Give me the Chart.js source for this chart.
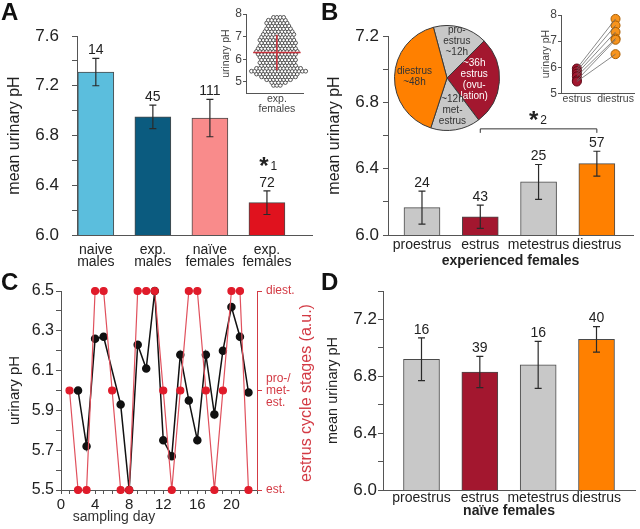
<!DOCTYPE html>
<html lang="en">
<head>
<meta charset="UTF-8" />
<title>Urinary pH over the estrus cycle</title>
<script src="https://cdn.jsdelivr.net/npm/chart.js"></script>
<style>
  html, body { margin: 0; padding: 0; background: #fff; }
  #fig { position: relative; width: 640px; height: 529px; overflow: hidden; }
  #fig canvas { position: absolute; }
  .letter { position: absolute; font: bold 24px "Liberation Sans", Arial, sans-serif; color: #111; line-height: 1; }
</style>
</head>
<body>
<div id="fig">
  <canvas id="chartA" width="320" height="270" style="left:0;top:0"></canvas>
  <canvas id="insetA" width="95" height="110" style="left:220px;top:5px"></canvas>
  <canvas id="chartB" width="320" height="270" style="left:320px;top:0"></canvas>
  <canvas id="pieB" width="106" height="106" style="left:394px;top:25px"></canvas>
  <canvas id="insetB" width="100" height="105" style="left:540px;top:5px"></canvas>
  <canvas id="chartC" width="320" height="259" style="left:0;top:270px"></canvas>
  <canvas id="chartD" width="320" height="259" style="left:320px;top:270px"></canvas>
  <div class="letter" style="left:1px;top:0">A</div>
  <div class="letter" style="left:321px;top:0">B</div>
  <div class="letter" style="left:1px;top:270px">C</div>
  <div class="letter" style="left:321px;top:270px">D</div>
</div>
<script>
// ---- panel A: all groups ----
const groupsA = [["naive", "males"], ["exp.", "males"], ["naïve", "females"], ["exp.", "females"]];
const meanA = [7.31, 6.95, 6.94, 6.26];
const semA = [0.11, 0.095, 0.15, 0.095];
const nA = [14, 45, 111, 72];
const colorsA = ["#5bbedd", "#0b5b7f", "#f98b8b", "#e0121e"];

// inset A: swarm of exp. females, read as rows (pH level, number of dots)
const swarmPH = [4.85, 4.975, 5.1, 5.225, 5.35, 5.475, 5.6, 5.725, 5.85, 5.975, 6.1, 6.225, 6.35,
                 6.475, 6.6, 6.725, 6.85, 6.975, 7.1, 7.225, 7.35, 7.475, 7.6, 7.725, 7.85];
const swarmCount = [3, 5, 8, 11, 13, 17, 14, 11, 11, 11, 11, 12, 13, 12, 11, 11, 11, 10, 10, 9, 8, 7, 7, 6, 4];
const swarmMean = 6.3;
const swarmSd = 0.78;

// ---- panel B: experienced females by stage ----
const stages = ["proestrus", "estrus", "metestrus", "diestrus"];
const meanB = [6.165, 6.11, 6.32, 6.43];
const semB = [0.1, 0.07, 0.105, 0.075];
const nB = [24, 43, 25, 57];
const stageColors = ["#c8c8c8", "#a3172f", "#c8c8c8", "#ff8000"];

// pie of the cycle (slice sizes as drawn, degrees)
const pieLabels = [["pro-", "estrus", "~12h"], ["~36h", "estrus", "(ovu-", "lation)"], ["~12h", "met-", "estrus"], ["diestrus", "~48h"]];
const pieDegrees = [60, 98, 55, 147];

// inset B: paired estrus / diestrus values
const pairEstrus = [5.95, 5.85, 5.75, 5.65, 5.5, 5.45];
const pairDiestrus = [7.85, 7.6, 7.35, 7.1, 7.05, 6.5];

// ---- panel C: single female over days ----
const days = [1, 2, 3, 4, 5, 6, 7, 8, 9, 10, 11, 12, 13, 14, 15, 16, 17, 18, 19, 20, 21, 22];
const phC = [null, 6.0, 5.72, 6.26, 6.27, null, 5.93, 5.5, 6.23, 6.11, 6.5, 5.75, 5.67, 6.18, 5.95, 5.75, 6.18, 5.88, 6.2, 6.42, 6.27, 5.99];
const stageC = [1, 0, 0, 2, 2, 1, 0, 0, 2, 2, 2, 1, 0, 1, 2, 2, 1, 0, 1, 2, 2, 0];
const stageTicks = ["est.", ["pro-/", "met-", "est."], "diest."];

// ---- panel D: naive females by stage ----
const meanD = [6.92, 6.83, 6.88, 7.06];
const semD = [0.15, 0.11, 0.165, 0.09];
const nD = [16, 39, 16, 40];

const FONT = '"Liberation Sans", Arial, Helvetica, sans-serif';
Chart.defaults.font.family = FONT;
Chart.defaults.color = "#222";
const AXIS = "#555";
const RED = "#d33a44";

function stepTicks(min, max, step) {
  const out = [];
  const n = Math.round((max - min) / step);
  for (let k = 0; k <= n; k++) out.push({ value: +(min + k * step).toFixed(4) });
  return out;
}

function drawText(ctx, text, x, y, font, color, opts = {}) {
  const lines = [].concat(text);
  const lh = opts.lineHeight || 12;
  ctx.save();
  ctx.font = font;
  ctx.fillStyle = color;
  ctx.textAlign = opts.align || "center";
  ctx.textBaseline = "middle";
  ctx.translate(x, y);
  if (opts.rotate) ctx.rotate(opts.rotate);
  lines.forEach((t, i) => ctx.fillText(t, 0, (i - (lines.length - 1) / 2) * lh));
  ctx.restore();
}

function drawStar(ctx, x, y, sub) {
  drawText(ctx, "*", x, y + 5, "bold 24px " + FONT, "#222");
  drawText(ctx, sub, x + 10, y + 4, "12px " + FONT, "#222");
}

// error bars + n above each bar
function barExtras(cfg) {
  return {
    id: "barExtras",
    afterDatasetsDraw(chart) {
      const { ctx, scales: { x, y } } = chart;
      ctx.save();
      ctx.strokeStyle = "#2a2a2a";
      ctx.lineWidth = 1.2;
      cfg.mean.forEach((m, i) => {
        const px = x.getPixelForValue(i);
        const top = y.getPixelForValue(m + cfg.sem[i]);
        const bot = y.getPixelForValue(m - cfg.sem[i]);
        ctx.beginPath();
        ctx.moveTo(px, top); ctx.lineTo(px, bot);
        ctx.moveTo(px - 3.5, top); ctx.lineTo(px + 3.5, top);
        ctx.moveTo(px - 3.5, bot); ctx.lineTo(px + 3.5, bot);
        ctx.stroke();
        drawText(ctx, String(cfg.n[i]), px, top - 8, "14px " + FONT, "#222");
      });
      ctx.restore();
      if (cfg.after) cfg.after(chart);
    }
  };
}

function barPanel(id, cfg) {
  const base = Math.round(cfg.yMin * 10);
  return new Chart(document.getElementById(id), {
    type: "bar",
    data: {
      datasets: [{
        data: cfg.mean.map((m, i) => ({ x: i, y: m })),
        backgroundColor: cfg.colors,
        borderColor: "#4a4a4a",
        borderWidth: 1,
        barThickness: 36
      }]
    },
    options: {
      responsive: false, animation: false, devicePixelRatio: 1,
      layout: { padding: { top: cfg.top, right: cfg.right, left: 0, bottom: 0 } },
      plugins: { legend: { display: false }, tooltip: { enabled: false } },
      scales: {
        x: {
          type: "linear", min: cfg.xMin, max: cfg.xMax, offset: false,
          afterFit: s => { s.height = cfg.bottomH; },
          afterBuildTicks: s => { s.ticks = cfg.cats.map((c, i) => ({ value: i })); },
          grid: { display: false, drawTicks: false },
          border: { color: AXIS, width: 1 },
          ticks: {
            autoSkip: false, maxRotation: 0, padding: cfg.xPad,
            font: { size: 14, lineHeight: 0.88 },
            callback: v => cfg.cats[Math.round(v)]
          },
          title: cfg.xTitle
            ? { display: true, text: cfg.xTitle, font: { size: 14, weight: "bold" }, padding: { top: 0, bottom: cfg.xTitlePad } }
            : { display: false }
        },
        y: {
          min: cfg.yMin, max: cfg.yMax,
          afterFit: s => { s.width = cfg.leftW; },
          afterBuildTicks: s => { s.ticks = stepTicks(cfg.yMin, cfg.yMax, 0.2); },
          grid: { drawOnChartArea: false, drawTicks: true, tickLength: 5, color: AXIS },
          border: { color: AXIS, width: 1 },
          ticks: {
            autoSkip: false, padding: cfg.yPad, font: { size: 17 },
            callback: v => ((Math.round(v * 10) - base) % 4 === 0 ? v.toFixed(1) : "")
          },
          title: { display: true, text: "mean urinary pH", font: { size: cfg.yTitleSize }, padding: { top: cfg.yTitlePad, bottom: 0 } }
        }
      }
    },
    plugins: [barExtras(cfg)]
  });
}

// ---- A ----
barPanel("chartA", {
  cats: groupsA, mean: meanA, sem: semA, n: nA, colors: colorsA,
  yMin: 6.0, yMax: 7.6, xMin: -0.33, xMax: 3.79,
  top: 36, right: 8, bottomH: 35, leftW: 77, xPad: 9, yPad: 13, yTitleSize: 16, yTitlePad: 5,
  after(chart) {
    const { x, y } = chart.scales;
    const top = y.getPixelForValue(meanA[3] + semA[3]);
    drawStar(chart.ctx, x.getPixelForValue(3) - 3, top - 28, "1");
  }
});

// inset A: swarm
const swarmPts = [];
swarmPH.forEach((ph, r) => {
  const n = swarmCount[r];
  let startX = -(n - 1) / 2;
  const want = r % 2 ? 0.5 : 0;
  if (Math.abs(Math.abs(startX % 1) - want) > 0.01) startX += 0.5;
  for (let j = 0; j < n; j++) swarmPts.push({ x: startX + j, y: ph });
});

new Chart(document.getElementById("insetA"), {
  type: "scatter",
  data: {
    datasets: [{
      data: swarmPts, pointRadius: 1.9, borderWidth: 0.9,
      pointBorderColor: "#444", pointBackgroundColor: "#fff", clip: false
    }]
  },
  options: {
    responsive: false, animation: false, devicePixelRatio: 1,
    layout: { padding: { top: 9, right: 12, left: 0, bottom: 0 } },
    plugins: { legend: { display: false }, tooltip: { enabled: false } },
    scales: {
      x: {
        type: "linear", min: -9.1, max: 7.7, offset: false,
        afterFit: s => { s.height = 21.7; },
        afterBuildTicks: s => { s.ticks = [{ value: 0 }]; },
        grid: { display: false, drawTicks: false },
        border: { color: AXIS },
        ticks: { padding: 1, font: { size: 10.5, lineHeight: 0.95 }, color: "#444", callback: () => ["exp.", "females"] }
      },
      y: {
        min: 4.5, max: 8,
        afterFit: s => { s.width = 26; },
        afterBuildTicks: s => { s.ticks = stepTicks(5, 8, 1); },
        grid: { drawOnChartArea: false, tickLength: 3, color: AXIS },
        border: { color: AXIS },
        ticks: { padding: 1, font: { size: 12 }, color: "#444", callback: v => String(v) },
        title: { display: true, text: "urinary pH", font: { size: 10.5 }, color: "#444", padding: { top: 0, bottom: 0 } }
      }
    }
  },
  plugins: [{
    id: "meanSd",
    afterDatasetsDraw(chart) {
      const { ctx, scales: { x, y } } = chart;
      ctx.save();
      ctx.strokeStyle = "#c8323c";
      ctx.lineWidth = 1.6;
      ctx.beginPath();
      ctx.moveTo(x.getPixelForValue(-7), y.getPixelForValue(swarmMean));
      ctx.lineTo(x.getPixelForValue(7), y.getPixelForValue(swarmMean));
      ctx.moveTo(x.getPixelForValue(0), y.getPixelForValue(swarmMean - swarmSd));
      ctx.lineTo(x.getPixelForValue(0), y.getPixelForValue(swarmMean + swarmSd));
      ctx.stroke();
      ctx.restore();
    }
  }]
});

// ---- B ----
barPanel("chartB", {
  cats: stages, mean: meanB, sem: semB, n: nB, colors: stageColors,
  yMin: 6.0, yMax: 7.2, xMin: -0.583, xMax: 3.62,
  top: 36, right: 7, bottomH: 35, leftW: 68, xPad: 4, yPad: 4, yTitleSize: 16, yTitlePad: 5,
  xTitle: "experienced females", xTitlePad: 0,
  after(chart) {
    const { ctx, scales: { x, y } } = chart;
    const x1 = x.getPixelForValue(1), x2 = x.getPixelForValue(3), yy = y.getPixelForValue(6.64);
    ctx.save();
    ctx.strokeStyle = "#333";
    ctx.lineWidth = 1;
    ctx.beginPath();
    ctx.moveTo(x1, yy + 4); ctx.lineTo(x1, yy); ctx.lineTo(x2, yy); ctx.lineTo(x2, yy + 4);
    ctx.stroke();
    ctx.restore();
    drawStar(ctx, (x1 + x2) / 2 - 5, yy - 12, "2");
  }
});

new Chart(document.getElementById("pieB"), {
  type: "pie",
  data: {
    labels: stages,
    datasets: [{ data: pieDegrees, backgroundColor: stageColors, borderColor: "#3a3a3a", borderWidth: 1 }]
  },
  options: {
    responsive: false, animation: false, devicePixelRatio: 1, rotation: -15,
    plugins: { legend: { display: false }, tooltip: { enabled: false } }
  },
  plugins: [{
    id: "pieText",
    afterDatasetsDraw(chart) {
      const frac = [0.72, 0.52, 0.63, 0.62];
      const colors = ["#333", "#fff", "#333", "#333"];
      chart.getDatasetMeta(0).data.forEach((arc, i) => {
        const mid = (arc.startAngle + arc.endAngle) / 2;
        const r = arc.outerRadius * frac[i];
        drawText(chart.ctx, pieLabels[i], arc.x + Math.cos(mid) * r, arc.y + Math.sin(mid) * r,
          "10px " + FONT, colors[i], { lineHeight: 11 });
      });
    }
  }]
});

new Chart(document.getElementById("insetB"), {
  type: "scatter",
  data: {
    datasets: [
      ...pairEstrus.map((e, i) => ({
        type: "line", data: [{ x: 0, y: e }, { x: 1, y: pairDiestrus[i] }],
        borderColor: "#6a6a6a", borderWidth: 0.8, pointRadius: 0, clip: false
      })),
      { data: pairEstrus.map(v => ({ x: 0, y: v })), pointRadius: 4.5, borderWidth: 1,
        pointBackgroundColor: "#a3172f", pointBorderColor: "#5e0a18", clip: false },
      { data: pairDiestrus.map(v => ({ x: 1, y: v })), pointRadius: 4.5, borderWidth: 1,
        pointBackgroundColor: "#f7941d", pointBorderColor: "#a85c00", clip: false }
    ]
  },
  options: {
    responsive: false, animation: false, devicePixelRatio: 1,
    layout: { padding: { top: 10, right: 3, left: 0, bottom: 0 } },
    plugins: { legend: { display: false }, tooltip: { enabled: false } },
    scales: {
      x: {
        type: "linear", min: -0.41, max: 1.49, offset: false,
        afterFit: s => { s.height = 16.7; },
        afterBuildTicks: s => { s.ticks = [{ value: 0 }, { value: 1 }]; },
        grid: { display: false, drawTicks: false },
        border: { color: AXIS },
        ticks: { padding: 0, font: { size: 10.5 }, color: "#444", callback: v => (v === 0 ? "estrus" : "diestrus") }
      },
      y: {
        min: 5, max: 8,
        afterFit: s => { s.width = 21; },
        afterBuildTicks: s => { s.ticks = stepTicks(5, 8, 1); },
        grid: { drawOnChartArea: false, tickLength: 3, color: AXIS },
        border: { color: AXIS },
        ticks: { padding: 1, font: { size: 12 }, color: "#444", callback: v => String(v) },
        title: { display: true, text: "urinary pH", font: { size: 10.5 }, color: "#444", padding: { top: 0, bottom: 0 } }
      }
    }
  }
});

// ---- C ----
new Chart(document.getElementById("chartC"), {
  type: "line",
  data: {
    datasets: [
      { label: "urinary pH", data: days.map((d, i) => ({ x: d, y: phC[i] })), yAxisID: "y",
        borderColor: "#111", backgroundColor: "#111", pointBorderColor: "#111", borderWidth: 1.5,
        pointRadius: 3.5, spanGaps: true, clip: false, order: 2 },
      { label: "stage", data: days.map((d, i) => ({ x: d, y: stageC[i] })), yAxisID: "y2",
        borderColor: "#e0505c", backgroundColor: "#e01b2a", pointBorderColor: "#e01b2a", borderWidth: 1.2,
        pointRadius: 3.5, clip: false, order: 1 }
    ]
  },
  options: {
    responsive: false, animation: false, devicePixelRatio: 1,
    layout: { padding: { top: 21, right: 0, left: 0, bottom: 0 } },
    plugins: { legend: { display: false }, tooltip: { enabled: false } },
    scales: {
      x: {
        type: "linear", min: 0, max: 23, offset: false,
        afterFit: s => { s.height = 39; },
        afterBuildTicks: s => { s.ticks = stepTicks(0, 23, 1); },
        grid: { drawOnChartArea: false, tickLength: 4, color: AXIS },
        border: { color: AXIS },
        ticks: { autoSkip: false, maxRotation: 0, padding: 2, font: { size: 15 },
                 callback: v => (v % 4 === 0 ? String(v) : "") }
      },
      y: {
        position: "left", min: 5.5, max: 6.5,
        afterFit: s => { s.width = 61; },
        afterBuildTicks: s => { s.ticks = stepTicks(5.5, 6.5, 0.1); },
        grid: { drawOnChartArea: false, tickLength: 5, color: AXIS },
        border: { color: AXIS },
        ticks: { autoSkip: false, padding: 2, font: { size: 16 },
                 callback: v => (Math.round(v * 10) % 2 === 1 ? v.toFixed(1) : "") },
        title: { display: true, text: "urinary pH", font: { size: 15 }, padding: { top: 6, bottom: 0 } }
      },
      y2: {
        position: "right", min: 0, max: 2,
        afterFit: s => { s.width = 63; },
        afterBuildTicks: s => { s.ticks = stepTicks(0, 2, 1); },
        grid: { drawOnChartArea: false, tickLength: 5, color: RED },
        border: { color: RED },
        ticks: { autoSkip: false, padding: 4, color: RED, font: { size: 12, lineHeight: 1 },
                 callback: v => stageTicks[Math.round(v)] }
      }
    }
  },
  plugins: [{
    id: "cTitles",
    afterDraw(chart) {
      drawText(chart.ctx, "sampling day", 114, 247, "14px " + FONT, "#333");
      drawText(chart.ctx, "estrus cycle stages (a.u.)", 307, 123, "16px " + FONT, RED, { rotate: -Math.PI / 2 });
    }
  }]
});

// ---- D ----
barPanel("chartD", {
  cats: stages, mean: meanD, sem: semD, n: nD, colors: stageColors,
  yMin: 6.0, yMax: 7.4, xMin: -0.66, xMax: 3.66,
  top: 21, right: 5, bottomH: 39, leftW: 63, xPad: 2, yPad: 1, yTitleSize: 14.5, yTitlePad: 4,
  xTitle: "naïve females", xTitlePad: 9
});
</script>
</body>
</html>
